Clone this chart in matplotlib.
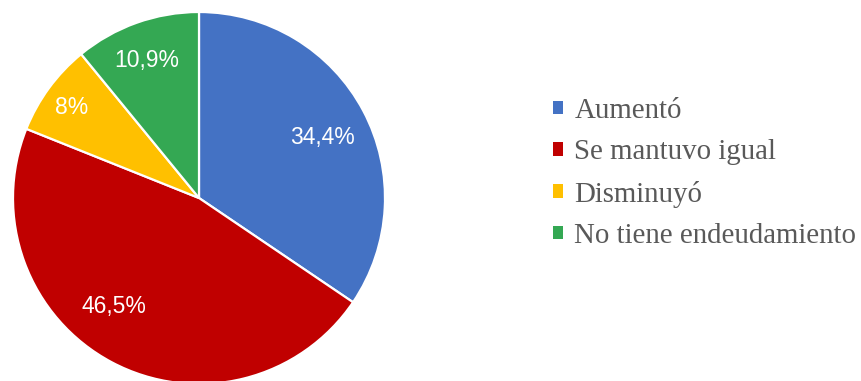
import numpy as np
import matplotlib
matplotlib.use("Agg")
import matplotlib.pyplot as plt
from matplotlib.patches import Patch

categories = ["Aumentó", "Se mantuvo igual", "Disminuyó", "No tiene endeudamiento"]
values = [34.4, 46.5, 8.0, 10.9]
pct_labels = ["34,4%", "46,5%", "8%", "10,9%"]
colors = ["#4472C4", "#C00000", "#FFC000", "#34A853"]

# label placement inside each wedge (radius fraction, angle shift in degrees)
label_r = [0.74, 0.74, 0.84, 0.79]
label_shift = [-2, -10, 1, 1]

fig = plt.figure(figsize=(8.62, 3.81), dpi=100)
# pie box: center (199, 198) px, radius 186 px
ax = fig.add_axes([13 / 862, -3 / 381, 372 / 862, 372 / 381])
wedges, _ = ax.pie(
    values, colors=colors, startangle=90, counterclock=False,
    wedgeprops=dict(edgecolor="white", linewidth=1.6),
)
for w, lab, r, sh in zip(wedges, pct_labels, label_r, label_shift):
    ang = np.deg2rad((w.theta1 + w.theta2) / 2 + sh)
    ax.text(r * np.cos(ang), r * np.sin(ang), lab, ha="center", va="center",
            color="white", fontsize=16.5, family="Liberation Sans")
ax.set_xlim(-1, 1)
ax.set_ylim(-1, 1)
ax.set_aspect("auto")
ax.axis("off")

handles = [Patch(facecolor=c, edgecolor="none") for c in colors]
leg = fig.legend(handles, categories, loc="center left",
                 bbox_to_anchor=(527 / 862, 0.545), frameon=False,
                 prop=dict(family="Liberation Serif", size=20.8),
                 handlelength=0.36, handleheight=0.36, handletextpad=0.38,
                 labelspacing=0.53, labelcolor="#595959")

fig.savefig("out.png", dpi=100)
